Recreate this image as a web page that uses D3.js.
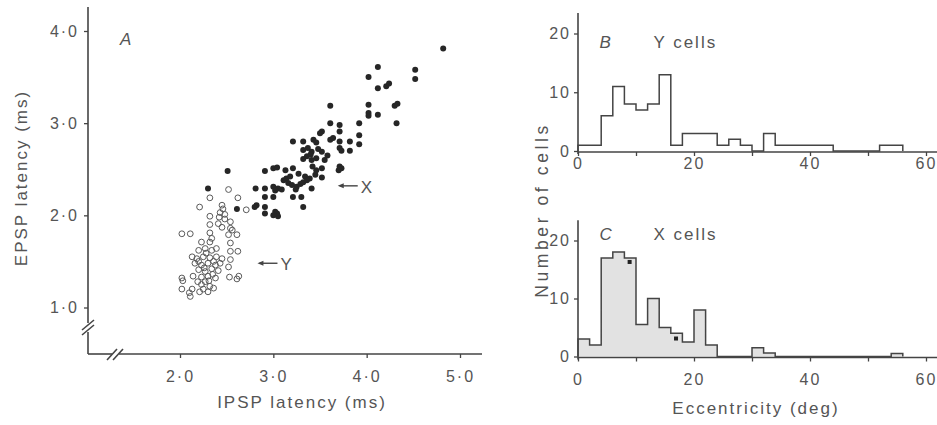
<!DOCTYPE html>
<html>
<head>
<meta charset="utf-8">
<script src="https://cdn.jsdelivr.net/npm/d3@7"></script>
<style>
  body { margin: 0; background: #fff; }
  svg text { font-family: "Liberation Sans", Arial, sans-serif; fill: #555; letter-spacing: 2px; }
</style>
</head>
<body>
<div id="chart"></div>
<script>
// A: X cells, [IPSP latency, EPSP latency] (ms) - filled dots
const xCells = [
  [4.82, 3.81], [4.12, 3.61], [4.52, 3.58], [4.52, 3.48], [4.02, 3.50], [4.12, 3.38],
  [4.21, 3.40], [4.24, 3.43], [4.33, 3.21], [4.30, 3.19], [4.32, 3.00], [4.02, 3.20],
  [4.02, 3.11], [4.02, 3.08], [4.12, 3.09], [3.61, 3.19], [3.61, 3.00], [3.71, 2.98],
  [3.92, 3.00], [3.92, 2.87], [3.92, 2.77], [3.52, 2.91], [3.71, 2.91], [3.61, 2.82],
  [3.64, 2.84], [3.71, 2.80], [3.82, 2.80], [3.71, 2.73], [3.73, 2.70], [3.82, 2.70],
  [3.71, 2.53], [3.73, 2.51], [3.70, 2.49], [3.21, 2.80], [3.32, 2.80], [3.43, 2.82],
  [3.46, 2.79], [3.32, 2.71], [3.37, 2.73], [3.41, 2.69], [3.48, 2.72], [3.52, 2.69],
  [3.32, 2.61], [3.36, 2.64], [3.41, 2.60], [3.46, 2.62], [3.55, 2.60], [3.42, 2.53],
  [3.46, 2.49], [3.52, 2.51], [3.45, 2.44], [3.52, 2.41], [3.39, 2.40], [3.34, 2.42],
  [2.91, 2.48], [3.00, 2.51], [3.04, 2.52], [3.13, 2.49], [3.21, 2.51], [3.14, 2.40],
  [3.18, 2.42], [3.11, 2.38], [3.16, 2.35], [3.20, 2.33], [3.25, 2.31], [3.29, 2.34],
  [3.32, 2.36], [3.36, 2.38], [3.00, 2.31], [3.05, 2.29], [3.02, 2.27], [3.09, 2.28],
  [2.81, 2.29], [2.91, 2.29], [3.41, 2.29], [2.91, 2.20], [3.00, 2.20], [3.21, 2.20],
  [3.30, 2.20], [2.82, 2.11], [2.80, 2.09], [2.91, 2.09], [2.91, 2.02], [3.02, 2.04],
  [3.04, 2.02], [3.05, 1.99], [3.00, 2.00], [3.32, 2.09], [2.30, 2.29], [2.51, 2.48],
  [2.61, 2.07], [3.50, 2.89], [3.27, 2.45], [3.24, 2.28], [3.40, 2.66], [3.58, 2.65]
];

// A: Y cells - open circles
const yCells = [
  [2.52, 2.28], [2.32, 2.19], [2.62, 2.19], [2.21, 2.09], [2.45, 2.11], [2.46, 2.07],
  [2.43, 2.03], [2.48, 2.01], [2.71, 2.06], [2.32, 1.99], [2.42, 1.98], [2.48, 1.96],
  [2.54, 1.93], [2.32, 1.90], [2.41, 1.91], [2.45, 1.87], [2.54, 1.86], [2.56, 1.84],
  [2.02, 1.80], [2.11, 1.80], [2.32, 1.81], [2.52, 1.79], [2.61, 1.79], [2.23, 1.71],
  [2.32, 1.71], [2.34, 1.75], [2.54, 1.70], [2.20, 1.62], [2.27, 1.64], [2.34, 1.62],
  [2.39, 1.64], [2.54, 1.61], [2.62, 1.61], [2.13, 1.55], [2.18, 1.53], [2.25, 1.55],
  [2.32, 1.54], [2.39, 1.55], [2.45, 1.53], [2.16, 1.48], [2.23, 1.46], [2.30, 1.48],
  [2.38, 1.46], [2.43, 1.48], [2.20, 1.41], [2.27, 1.39], [2.34, 1.42], [2.41, 1.40],
  [2.14, 1.34], [2.23, 1.33], [2.30, 1.34], [2.38, 1.32], [2.54, 1.52], [2.52, 1.44],
  [2.53, 1.33], [2.61, 1.31], [2.63, 1.34], [2.02, 1.32], [2.03, 1.29], [2.02, 1.20],
  [2.13, 1.20], [2.11, 1.12], [2.10, 1.16], [2.23, 1.25], [2.32, 1.23], [2.21, 1.17],
  [2.30, 1.17], [2.36, 1.21], [2.27, 1.28], [2.19, 1.28], [2.35, 1.36], [2.28, 1.59],
  [2.20, 1.50], [2.36, 1.50], [2.26, 1.43], [2.31, 1.29], [2.25, 1.20]
];

// B, C: eccentricity bins (deg, 2 deg wide), number of cells per bin
const binStarts = [0, 2, 4, 6, 8, 10, 12, 14, 16, 18, 20, 22, 24, 26, 28, 30, 32, 34, 36, 38, 40, 42, 44, 46, 48, 50, 52, 54];
const yCounts = [1, 1, 6, 11, 8, 7, 8, 13, 1, 3, 3, 3, 1, 2, 1, 0, 3, 1, 1, 1, 1, 1, 0, 0, 0, 0, 1, 1];
const xCounts = [3, 2, 17, 18, 17, 5.5, 10, 5, 4, 2.5, 8, 2, 0, 0, 0, 1.5, 0.6, 0, 0, 0, 0, 0, 0, 0, 0, 0, 0, 0.5];
const binWidth = 2;
// small dark marks inside C
const cMarks = [[8.9, 16.3], [16.9, 3.1]];

// tick labels
const latencyTicksX = [2, 3, 4, 5];
const latencyTicksY = [1, 2, 3, 4];
const eccTicks = [0, 20, 40, 60];
const eccMinorTicks = [10, 30, 50];
const countTicks = [0, 10, 20];

// arrows in A: [tip x, tip y, label]
const arrows = [[3.69, 2.32, "X"], [2.83, 1.48, "Y"]];

const width = 937, height = 425;
const ink = "#444";

const svg = d3.select("#chart").append("svg")
  .attr("width", width)
  .attr("height", height);

const fmt = d => d3.format(".1f")(d).replace(".", "\u00b7");

// ---------- Panel A ----------
const xA = d3.scaleLinear().domain([2, 5]).range([180, 460]);
const yA = d3.scaleLinear().domain([1, 4]).range([307.5, 31]);
const axX = 88, axY = 354;

const gyA = svg.append("g").attr("transform", `translate(${axX},0)`)
  .call(d3.axisLeft(yA).tickValues(latencyTicksY).tickSize(4).tickPadding(5).tickFormat(fmt));
const gxA = svg.append("g").attr("transform", `translate(0,${axY})`)
  .call(d3.axisBottom(xA).tickValues(latencyTicksX).tickSize(4).tickPadding(13).tickFormat(fmt));

[gyA, gxA].forEach(g => {
  g.select(".domain").remove();
  g.selectAll("line").attr("stroke", ink).attr("stroke-width", 1.3);
  g.selectAll("text").attr("font-size", 16).attr("fill", "#555");
});

// axis lines with breaks
const axisLines = [
  [[axX, 7], [axX, 323]], [[axX, 332], [axX, axY]],
  [[axX, axY], [112, axY]], [[119, axY], [482, axY]],
  [[82, 330], [94, 320]], [[82, 335], [94, 325]],
  [[107, 360], [117, 349]], [[113, 360], [123, 349]]
];
svg.append("g").selectAll("path")
  .data(axisLines)
  .enter().append("path")
  .attr("d", d => d3.line()(d))
  .attr("stroke", ink)
  .attr("stroke-width", 1.6)
  .attr("fill", "none");

svg.append("g").selectAll("circle")
  .data(yCells)
  .enter().append("circle")
  .attr("cx", d => xA(d[0]))
  .attr("cy", d => yA(d[1]))
  .attr("r", 2.9)
  .attr("fill", "none")
  .attr("stroke", "#5a5a5a")
  .attr("stroke-width", 1);

svg.append("g").selectAll("circle")
  .data(xCells)
  .enter().append("circle")
  .attr("cx", d => xA(d[0]))
  .attr("cy", d => yA(d[1]))
  .attr("r", 3)
  .attr("fill", "#262626");

// arrows with labels
const arrowG = svg.append("g").selectAll("g")
  .data(arrows)
  .enter().append("g")
  .attr("transform", d => `translate(${xA(d[0])},${yA(d[1])})`);
arrowG.append("line")
  .attr("x1", 2).attr("x2", 20)
  .attr("stroke", ink).attr("stroke-width", 1.4);
arrowG.append("path")
  .attr("d", "M0,0L6,-2.5L6,2.5Z")
  .attr("fill", ink);
arrowG.append("text")
  .attr("x", 23).attr("y", 7)
  .attr("font-size", 17)
  .text(d => d[2]);

svg.append("text")
  .attr("x", 120).attr("y", 45)
  .attr("font-size", 17).attr("font-style", "italic")
  .text("A");

svg.append("text")
  .attr("x", 302).attr("y", 408)
  .attr("text-anchor", "middle")
  .attr("font-size", 17)
  .text("IPSP latency (ms)");

svg.append("text")
  .attr("transform", "translate(27,178) rotate(-90)")
  .attr("text-anchor", "middle")
  .attr("font-size", 17)
  .text("EPSP latency (ms)");

// ---------- Panels B and C ----------
const xH = d3.scaleLinear().domain([0, 60]).range([578, 926]);

function histogram(counts, y0, y20, labelPad, shaded, letter, title, titleY) {
  const yH = d3.scaleLinear().domain([0, 20]).range([y0, y20]);
  const g = svg.append("g");

  const steps = binStarts.map((s, i) => [s, counts[i]]);
  steps.push([binStarts[binStarts.length - 1] + binWidth, 0]);
  steps.unshift([0, 0]);

  if (shaded) {
    g.append("path")
      .datum(steps)
      .attr("d", d3.area().curve(d3.curveStepAfter)
        .x(d => xH(d[0])).y0(yH(0)).y1(d => yH(d[1])))
      .attr("fill", "#e2e2e2");
  }

  g.append("path")
    .datum(steps)
    .attr("d", d3.line().curve(d3.curveStepAfter)
      .x(d => xH(d[0])).y(d => yH(d[1])))
    .attr("fill", "none")
    .attr("stroke", ink)
    .attr("stroke-width", 1.5);

  // axes
  const gy = g.append("g").attr("transform", `translate(${xH(0)},0)`)
    .call(d3.axisLeft(yH).tickValues(countTicks).tickSize(4).tickPadding(3));
  const gx = g.append("g").attr("transform", `translate(0,${yH(0) + 1})`)
    .call(d3.axisBottom(xH).tickValues(eccTicks).tickSize(4).tickPadding(labelPad));
  g.append("g").attr("transform", `translate(0,${yH(0) + 1})`)
    .call(d3.axisBottom(xH).tickValues(eccMinorTicks).tickSize(4).tickFormat(""))
    .call(a => a.select(".domain").remove())
    .selectAll("line").attr("stroke", ink).attr("stroke-width", 1.3);

  [gy, gx].forEach(a => {
    a.select(".domain").remove();
    a.selectAll("line").attr("stroke", ink).attr("stroke-width", 1.3);
    a.selectAll("text").attr("font-size", 16).attr("fill", "#555");
  });

  g.append("path")
    .attr("d", d3.line()([[xH(0), yH(23.5)], [xH(0), yH(0) + 3]]))
    .attr("stroke", ink).attr("stroke-width", 1.6);
  g.append("path")
    .attr("d", d3.line()([[xH(0), yH(0) + 1], [width, yH(0) + 1]]))
    .attr("stroke", ink).attr("stroke-width", 1.6);

  g.append("text")
    .attr("x", xH(3.7)).attr("y", yH(titleY))
    .attr("font-size", 17).attr("font-style", "italic")
    .text(letter);
  g.append("text")
    .attr("x", xH(13)).attr("y", yH(titleY))
    .attr("font-size", 17)
    .text(title);

  return yH;
}

histogram(yCounts, 151, 33.5, 2, false, "B", "Y cells", 17.5);
const yC = histogram(xCounts, 356.5, 240.5, 12, true, "C", "X cells", 20.1);

svg.append("g").selectAll("rect")
  .data(cMarks)
  .enter().append("rect")
  .attr("x", d => xH(d[0]) - 2)
  .attr("y", d => yC(d[1]) - 2)
  .attr("width", 4).attr("height", 4)
  .attr("fill", "#222");

svg.append("text")
  .attr("transform", "translate(548,210) rotate(-90)")
  .attr("text-anchor", "middle")
  .attr("font-size", 17.5)
  .style("letter-spacing", "3.6px")
  .text("Number of cells");

svg.append("text")
  .attr("x", 756).attr("y", 414)
  .attr("text-anchor", "middle")
  .attr("font-size", 17)
  .text("Eccentricity (deg)");
</script>
</body>
</html>
